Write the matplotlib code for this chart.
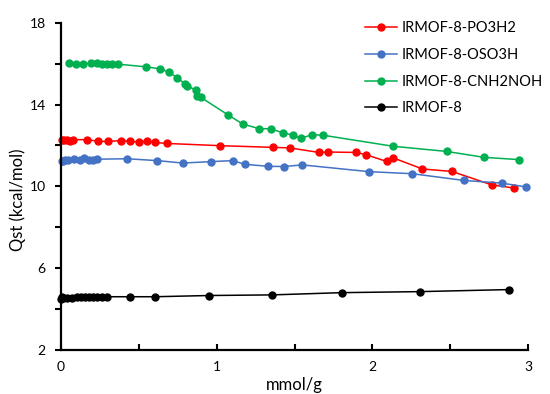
# Qst vs loading for IRMOF-8 variants
import matplotlib
matplotlib.use("Agg")
import matplotlib.pyplot as plt

plt.rcParams["font.family"] = ["Lato", "DejaVu Sans"]

po3h2_x = [0.008, 0.02, 0.036, 0.058, 0.079, 0.169, 0.24, 0.304, 0.385, 0.445, 0.503, 0.554, 0.604,
           0.679, 1.023, 1.36, 1.471, 1.657, 1.717, 1.895, 1.959, 2.092, 2.135, 2.322, 2.511, 2.768, 2.91]
po3h2_y = [12.25, 12.27, 12.26, 12.24, 12.28, 12.29, 12.20, 12.20, 12.24, 12.20, 12.17, 12.20, 12.15,
           12.10, 11.99, 11.91, 11.88, 11.66, 11.68, 11.66, 11.55, 11.22, 11.39, 10.85, 10.73, 10.07, 9.92]

oso3h_x = [0.005, 0.01, 0.025, 0.047, 0.083, 0.122, 0.148, 0.182, 0.208, 0.233, 0.426, 0.619, 0.781,
           0.961, 1.103, 1.18, 1.332, 1.432, 1.55, 1.978, 2.256, 2.588, 2.83, 2.99]
oso3h_y = [11.25, 11.22, 11.27, 11.31, 11.36, 11.31, 11.39, 11.31, 11.31, 11.33, 11.35, 11.26, 11.14,
           11.21, 11.26, 11.08, 10.98, 10.97, 11.05, 10.72, 10.62, 10.29, 10.16, 9.97]

cnh2noh_x = [0.053, 0.096, 0.143, 0.19, 0.229, 0.26, 0.298, 0.33, 0.364, 0.544, 0.636, 0.696, 0.747,
             0.796, 0.811, 0.865, 0.871, 0.897, 1.07, 1.167, 1.274, 1.347, 1.428, 1.49, 1.54, 1.614,
             1.685, 2.135, 2.477, 2.717, 2.94]
cnh2noh_y = [16.02, 16.0, 16.0, 16.03, 16.02, 16.0, 15.98, 15.97, 15.98, 15.85, 15.75, 15.58, 15.31,
             15.01, 14.93, 14.70, 14.41, 14.36, 13.51, 13.05, 12.82, 12.82, 12.61, 12.51, 12.35, 12.53,
             12.50, 11.96, 11.71, 11.42, 11.31]

irmof8_x = [0.0, 0.003, 0.015, 0.04, 0.069, 0.1, 0.126, 0.154, 0.182, 0.208, 0.233, 0.261, 0.298,
            0.445, 0.604, 0.953, 1.357, 1.805, 2.306, 2.877]
irmof8_y = [4.47, 4.58, 4.55, 4.56, 4.56, 4.57, 4.57, 4.57, 4.58, 4.58, 4.58, 4.58, 4.60,
            4.60, 4.60, 4.66, 4.69, 4.80, 4.85, 4.95]

series = [
    ("IRMOF-8-PO3H2", po3h2_x, po3h2_y, "#FF0000"),
    ("IRMOF-8-OSO3H", oso3h_x, oso3h_y, "#4472C4"),
    ("IRMOF-8-CNH2NOH", cnh2noh_x, cnh2noh_y, "#00B050"),
    ("IRMOF-8", irmof8_x, irmof8_y, "#000000"),
]

fig = plt.figure(figsize=(5.5, 3.94), dpi=100)
ax = fig.add_axes([0.111, 0.112, 0.849, 0.830])

for name, xs, ys, col in series:
    ax.plot(xs, ys, color=col, lw=1.1, marker="o", ms=5, label=name, clip_on=False)

ax.set_xlim(0, 3)
ax.set_ylim(2, 18)
ax.set_xticks([0, 0.5, 1, 1.5, 2, 2.5, 3])
ax.set_xticklabels(["0", "", "1", "", "2", "", "3"])
ax.set_yticks(range(2, 19, 2))
ax.set_yticklabels(["2", "", "6", "", "10", "", "14", "", "18"])
ax.tick_params(axis="x", direction="in", length=4, width=1.5, labelsize=10, pad=8)
ax.tick_params(axis="y", direction="out", length=4, width=1.5, labelsize=10, pad=7)

for s in ["top", "right"]:
    ax.spines[s].set_visible(False)
for s in ["left", "bottom"]:
    ax.spines[s].set_linewidth(1.6)

ax.set_xlabel("mmol/g", fontsize=12, labelpad=3)
ax.set_ylabel("Qst (kcal/mol)", fontsize=12)
ax.yaxis.set_label_coords(-0.075, 0.46)

ax.legend(loc="upper right", bbox_to_anchor=(1.06, 1.045), frameon=False, fontsize=10.5,
          handlelength=2.2, handletextpad=0.3, labelspacing=0.87)

fig.savefig("out.png", dpi=100)
